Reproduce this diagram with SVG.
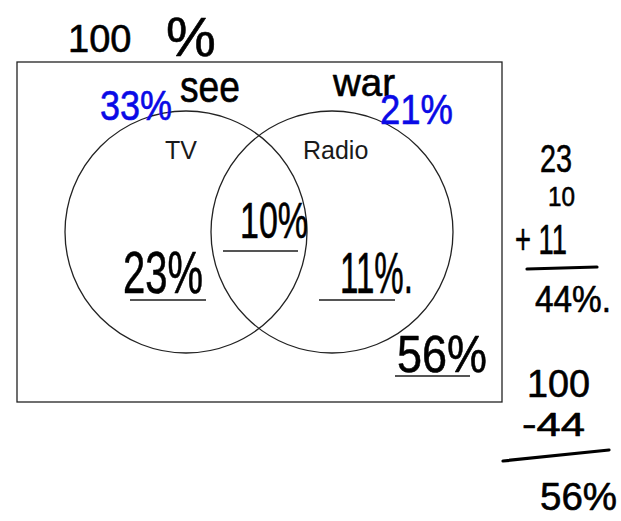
<svg xmlns="http://www.w3.org/2000/svg" width="621" height="521" viewBox="0 0 621 521">
<style>
.hw{font-family:"Liberation Sans",Arial,sans-serif;fill:#000;stroke:#000;stroke-width:0.6;stroke-linejoin:round}
.blue{fill:#0a0ae6;stroke:#0a0ae6}
.lbl{font-family:"Liberation Sans",Arial,sans-serif;font-size:25px;fill:#1a1a1a}
.ul{stroke:#555;stroke-width:2;fill:none}
.pen{stroke:#000;stroke-width:3.2;stroke-linecap:round;fill:none}
.shape{fill:none;stroke:#222;stroke-width:1.3}
</style>
<rect width="621" height="521" fill="#fff"/>
<g id="universe">
<rect class="shape" x="17" y="62" width="485" height="340"/>
</g>
<g id="tv">
<circle class="shape" cx="186" cy="232" r="121"/>
<text class="lbl" x="165" y="159">TV</text>
</g>
<g id="radio">
<circle class="shape" cx="332" cy="232" r="121"/>
<text class="lbl" x="303" y="159">Radio</text>
</g>
<g id="annotations">
<text class="hw" x="68" y="52" font-size="38">100<tspan x="166" y="56" font-size="56">%</tspan></text>
<text class="hw blue" x="100" y="120" font-size="42" textLength="72" lengthAdjust="spacingAndGlyphs">33%</text>
<text class="hw" x="180" y="102" font-size="44" textLength="60" lengthAdjust="spacingAndGlyphs">see</text>
<text class="hw" x="333" y="96" font-size="38" textLength="62" lengthAdjust="spacingAndGlyphs">war</text>
<text class="hw blue" x="380" y="124" font-size="42" textLength="73" lengthAdjust="spacingAndGlyphs">21%</text>
</g>
<g id="only-tv">
<text class="hw" x="123" y="293" font-size="60" textLength="80" lengthAdjust="spacingAndGlyphs">23%</text>
<line class="ul" x1="130" y1="300" x2="206" y2="300"/>
</g>
<g id="both">
<text class="hw" x="240" y="238" font-size="50" textLength="68" lengthAdjust="spacingAndGlyphs">10%</text>
<line class="ul" x1="223" y1="251" x2="298" y2="251"/>
</g>
<g id="only-radio">
<text class="hw" x="340" y="293" font-size="58" textLength="73" lengthAdjust="spacingAndGlyphs">11%.</text>
<line class="ul" x1="319" y1="300" x2="395" y2="300"/>
</g>
<g id="neither">
<text class="hw" x="397" y="372" font-size="52" textLength="90" lengthAdjust="spacingAndGlyphs">56%</text>
<line class="ul" x1="395" y1="376" x2="470" y2="376"/>
</g>
<g id="addition">
<text class="hw" x="540" y="172" font-size="38" textLength="32" lengthAdjust="spacingAndGlyphs">23</text>
<text class="hw" x="548" y="206" font-size="28" textLength="27" lengthAdjust="spacingAndGlyphs">10</text>
<text class="hw" x="515" y="254" font-size="42" textLength="52" lengthAdjust="spacingAndGlyphs">+ 11</text>
<path class="pen" d="M527 269 L597 267"/>
<text class="hw" x="535" y="312" font-size="36" textLength="76" lengthAdjust="spacingAndGlyphs">44%.</text>
</g>
<g id="subtraction">
<text class="hw" x="527" y="397" font-size="38" textLength="63" lengthAdjust="spacingAndGlyphs">100</text>
<text class="hw" x="522" y="436" font-size="33" textLength="63" lengthAdjust="spacingAndGlyphs">-44</text>
<path class="pen" d="M503 461 L609 450"/>
<text class="hw" x="540" y="510" font-size="38" textLength="77" lengthAdjust="spacingAndGlyphs">56%</text>
</g>
</svg>
